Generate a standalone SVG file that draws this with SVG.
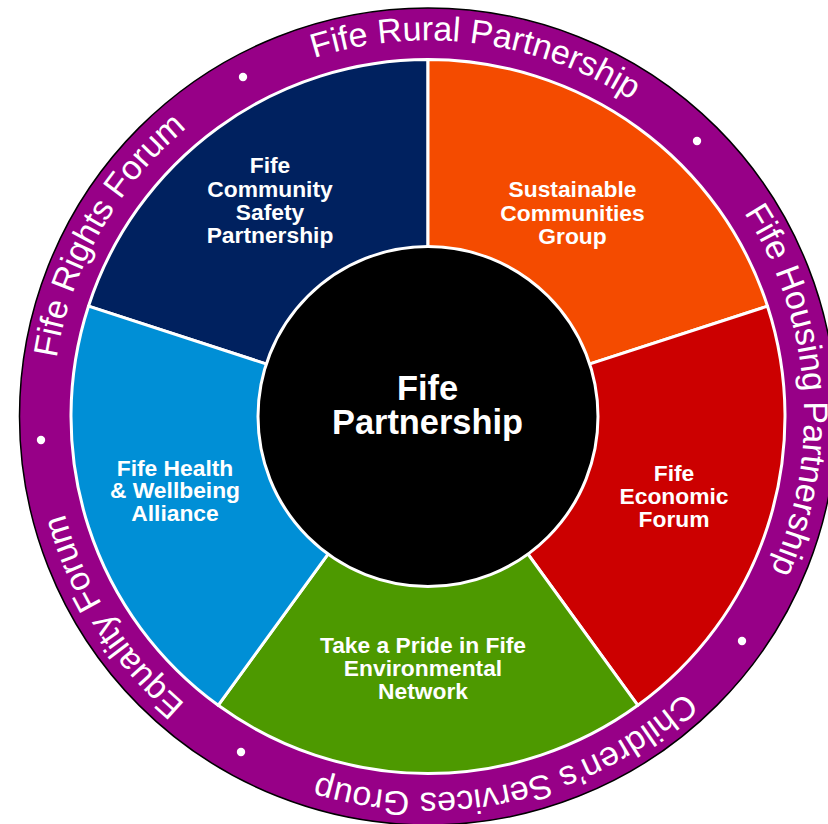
<svg xmlns="http://www.w3.org/2000/svg" xmlns:xlink="http://www.w3.org/1999/xlink" width="828" height="824" viewBox="0 0 828 824">
<style>
.seg{stroke:#FFFFFF;stroke-width:3;stroke-linejoin:round}
.lbl{font-family:"Liberation Sans",Arial,sans-serif;font-weight:bold;font-size:22.8px;fill:#FFFFFF;text-anchor:middle}
.title{font-family:"Liberation Sans",Arial,sans-serif;font-weight:bold;font-size:34.4px;fill:#FFFFFF;text-anchor:middle}
.ring{font-family:"Liberation Sans",Arial,sans-serif;font-size:34px;fill:#FFFFFF;text-anchor:middle}
.dot{fill:#FFFFFF}
</style>
<defs>
<path id="ringPath" d="M 52 416.5 A 376 376 0 1 1 804 416.5 A 376 376 0 1 1 52 416.5"/>
</defs>
<rect width="828" height="824" fill="#FFFFFF"/>
<g id="outer-ring">
<circle cx="428" cy="416.5" r="408.5" fill="#970087" stroke="#000000" stroke-width="1.5"/>
<circle class="dot" cx="243" cy="77" r="4.2"/>
<circle class="dot" cx="697" cy="141" r="4.2"/>
<circle class="dot" cx="742" cy="641" r="4.2"/>
<circle class="dot" cx="241" cy="752" r="4.2"/>
<circle class="dot" cx="41" cy="440" r="4.2"/>
<text class="ring"><textPath xlink:href="#ringPath" href="#ringPath" startOffset="8.2%">Fife Rights Forum</textPath></text>
<text class="ring"><textPath xlink:href="#ringPath" href="#ringPath" startOffset="27.1%">Fife Rural Partnership</textPath></text>
<text class="ring"><textPath xlink:href="#ringPath" href="#ringPath" startOffset="48.8%">Fife Housing Partnership</textPath></text>
<text class="ring"><textPath xlink:href="#ringPath" href="#ringPath" startOffset="71.4%">Children’s Services Group</textPath></text>
<text class="ring"><textPath xlink:href="#ringPath" href="#ringPath" startOffset="91%">Equality Forum</textPath></text>
</g>
<g id="connectors"></g>
<g id="community-safety">
<path class="seg" fill="#00215F" d="M 428 416.5 L 88.47 306.18 A 357 357 0 0 1 428 59.5 Z"/>
<text class="lbl" x="270" y="173">Fife</text>
<text class="lbl" x="270" y="196.5">Community</text>
<text class="lbl" x="270" y="220">Safety</text>
<text class="lbl" x="270" y="243">Partnership</text>
</g>
<g id="sustainable-communities">
<path class="seg" fill="#F44B00" d="M 428 416.5 L 428 59.5 A 357 357 0 0 1 767.53 306.18 Z"/>
<text class="lbl" x="572.5" y="197">Sustainable</text>
<text class="lbl" x="572.5" y="220.5">Communities</text>
<text class="lbl" x="572.5" y="244">Group</text>
</g>
<g id="economic-forum">
<path class="seg" fill="#CC0000" d="M 428 416.5 L 767.53 306.18 A 357 357 0 0 1 637.84 705.32 Z"/>
<text class="lbl" x="674" y="481">Fife</text>
<text class="lbl" x="674" y="504">Economic</text>
<text class="lbl" x="674" y="527">Forum</text>
</g>
<g id="environmental-network">
<path class="seg" fill="#4D9900" d="M 428 416.5 L 637.84 705.32 A 357 357 0 0 1 218.16 705.32 Z"/>
<text class="lbl" x="423" y="652.5">Take a Pride in Fife</text>
<text class="lbl" x="423" y="675.5">Environmental</text>
<text class="lbl" x="423" y="698.5">Network</text>
</g>
<g id="health-wellbeing">
<path class="seg" fill="#008FD6" d="M 428 416.5 L 218.16 705.32 A 357 357 0 0 1 88.47 306.18 Z"/>
<text class="lbl" x="175" y="475.5">Fife Health</text>
<text class="lbl" x="175" y="498">&amp; Wellbeing</text>
<text class="lbl" x="175" y="521">Alliance</text>
</g>
<g id="fife-partnership">
<circle cx="428" cy="416.5" r="170" fill="#000000" stroke="#FFFFFF" stroke-width="3"/>
<text class="title" x="427.5" y="400">Fife</text>
<text class="title" x="427.5" y="434">Partnership</text>
</g>
</svg>
